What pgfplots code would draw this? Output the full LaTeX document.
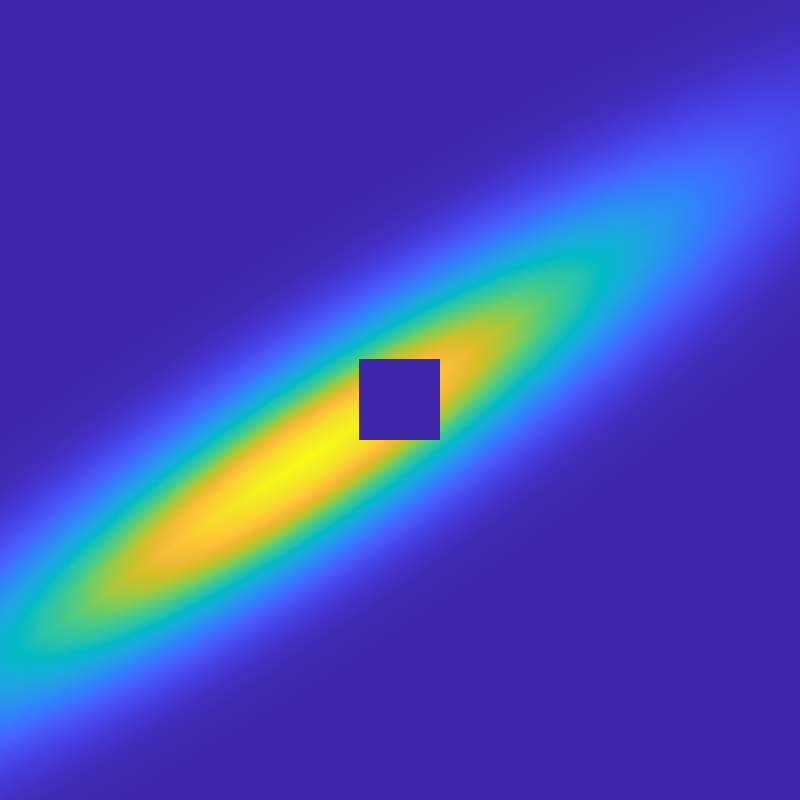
\documentclass[border=0pt]{standalone}
\usepackage{pgfplots}
\pgfplotsset{compat=1.18}
\definecolor{pbg}{rgb}{0.2422,0.1504,0.6603}
% parula, every third entry of the 64-step map
\pgfplotsset{colormap={parula}{
  rgb=(0.2422,0.1504,0.6603) rgb=(0.2647,0.1978,0.7952) rgb=(0.2783,0.2559,0.8991)
  rgb=(0.2810,0.3228,0.9579) rgb=(0.2699,0.3892,0.9906) rgb=(0.2206,0.4603,0.9973)
  rgb=(0.1786,0.5289,0.9682) rgb=(0.1540,0.5902,0.9218) rgb=(0.1248,0.6459,0.8883)
  rgb=(0.0689,0.6948,0.8394) rgb=(0.0067,0.7312,0.7660) rgb=(0.1408,0.7584,0.6842)
  rgb=(0.2161,0.7843,0.5923) rgb=(0.3406,0.8008,0.4789) rgb=(0.5044,0.7993,0.3480)
  rgb=(0.6720,0.7793,0.2227) rgb=(0.8203,0.7498,0.1535) rgb=(0.9393,0.7288,0.2100)
  rgb=(0.9970,0.7659,0.2199) rgb=(0.9786,0.8386,0.1766) rgb=(0.9597,0.9135,0.1423)
  rgb=(0.9769,0.9839,0.0805)}}
\begin{document}
\begin{tikzpicture}
\begin{axis}[
    scale only axis,
    width=10cm, height=10cm,
    xmin=0, xmax=800, ymin=0, ymax=800,
    y dir=reverse,
    hide axis,
    colormap name=parula,
    point meta min=0, point meta max=1,
  ]
  \addplot[draw=none, fill=pbg] coordinates {(0,0) (800,0) (800,800) (0,800)} -- cycle;

  % field sampled on a grid along the ridge (21 points across, 20 along)
  \addplot[surf, shader=interp, mesh/cols=21, point meta=explicit]
    table[x=X, y=Y, meta=f] {
X Y f
-201.7 555.2 0.0005
-190.7 571.9 0.0017
-179.6 588.6 0.0048
-168.6 605.2 0.0121
-157.5 621.9 0.0269
-146.5 638.6 0.0530
-135.5 655.3 0.0922
-124.4 672.0 0.1419
-113.4 688.6 0.1931
-102.3 705.3 0.2322
-91.3 722.0 0.2470
-80.3 738.7 0.2322
-69.2 755.4 0.1931
-58.2 772.0 0.1419
-47.1 788.7 0.0922
-36.1 805.4 0.0530
-25.1 822.1 0.0269
-14.0 838.8 0.0121
-3.0 855.4 0.0048
8.1 872.1 0.0017
19.1 888.8 0.0005
-151.7 522.0 0.0007
-140.7 538.7 0.0023
-129.6 555.4 0.0067
-118.6 572.0 0.0168
-107.5 588.7 0.0374
-96.5 605.4 0.0736
-85.5 622.1 0.1280
-74.4 638.8 0.1970
-63.4 655.4 0.2679
-52.3 672.1 0.3223
-41.3 688.8 0.3427
-30.3 705.5 0.3223
-19.2 722.2 0.2679
-8.2 738.8 0.1970
2.9 755.5 0.1280
13.9 772.2 0.0736
24.9 788.9 0.0374
36.0 805.6 0.0168
47.0 822.2 0.0067
58.1 838.9 0.0023
69.1 855.6 0.0007
-101.6 488.9 0.0010
-90.6 505.6 0.0031
-79.5 522.3 0.0089
-68.5 538.9 0.0223
-57.4 555.6 0.0497
-46.4 572.3 0.0977
-35.4 589.0 0.1701
-24.3 605.7 0.2617
-13.3 622.3 0.3560
-2.2 639.0 0.4282
8.8 655.7 0.4553
19.8 672.4 0.4282
30.9 689.1 0.3560
41.9 705.7 0.2617
53.0 722.4 0.1701
64.0 739.1 0.0977
75.0 755.8 0.0497
86.1 772.5 0.0223
97.1 789.1 0.0089
108.2 805.8 0.0031
119.2 822.5 0.0010
-51.6 455.8 0.0012
-40.6 472.5 0.0040
-29.5 489.2 0.0113
-18.5 505.8 0.0284
-7.4 522.5 0.0631
3.6 539.2 0.1243
14.6 555.9 0.2163
25.7 572.6 0.3328
36.7 589.2 0.4527
47.8 605.9 0.5445
58.8 622.6 0.5791
69.8 639.3 0.5445
80.9 656.0 0.4527
91.9 672.6 0.3328
103.0 689.3 0.2163
114.0 706.0 0.1243
125.0 722.7 0.0631
136.1 739.4 0.0284
147.1 756.0 0.0113
158.2 772.7 0.0040
169.2 789.4 0.0012
-1.6 422.7 0.0015
9.4 439.4 0.0048
20.5 456.1 0.0137
31.5 472.7 0.0345
42.6 489.4 0.0769
53.6 506.1 0.1513
64.6 522.8 0.2633
75.7 539.5 0.4051
86.7 556.1 0.5511
97.8 572.8 0.6629
108.8 589.5 0.7049
119.8 606.2 0.6629
130.9 622.9 0.5511
141.9 639.5 0.4051
153.0 656.2 0.2633
164.0 672.9 0.1513
175.0 689.6 0.0769
186.1 706.3 0.0345
197.1 722.9 0.0137
208.2 739.6 0.0048
219.2 756.3 0.0015
48.5 389.6 0.0017
59.5 406.3 0.0056
70.6 423.0 0.0160
81.6 439.6 0.0402
92.7 456.3 0.0896
103.7 473.0 0.1763
114.7 489.7 0.3068
125.8 506.4 0.4720
136.8 523.0 0.6422
147.9 539.7 0.7724
158.9 556.4 0.8215
169.9 573.1 0.7724
181.0 589.8 0.6422
192.0 606.4 0.4720
203.1 623.1 0.3068
214.1 639.8 0.1763
225.1 656.5 0.0896
236.2 673.2 0.0402
247.2 689.8 0.0160
258.3 706.5 0.0056
269.3 723.2 0.0017
98.5 356.4 0.0019
109.5 373.1 0.0063
120.6 389.8 0.0178
131.6 406.4 0.0449
142.7 423.1 0.0999
153.7 439.8 0.1966
164.7 456.5 0.3422
175.8 473.2 0.5265
186.8 489.8 0.7163
197.9 506.5 0.8616
208.9 523.2 0.9163
219.9 539.9 0.8616
231.0 556.6 0.7163
242.0 573.2 0.5265
253.1 589.9 0.3422
264.1 606.6 0.1966
275.1 623.3 0.0999
286.2 640.0 0.0449
297.2 656.6 0.0178
308.3 673.3 0.0063
319.3 690.0 0.0019
148.6 323.3 0.0021
159.6 340.0 0.0067
170.7 356.7 0.0190
181.7 373.3 0.0479
192.8 390.0 0.1067
203.8 406.7 0.2100
214.8 423.4 0.3654
225.9 440.1 0.5622
236.9 456.7 0.7648
248.0 473.4 0.9200
259.0 490.1 0.9784
270.0 506.8 0.9200
281.1 523.5 0.7648
292.1 540.1 0.5622
303.2 556.8 0.3654
314.2 573.5 0.2100
325.2 590.2 0.1067
336.3 606.9 0.0479
347.3 623.5 0.0190
358.4 640.2 0.0067
369.4 656.9 0.0021
198.6 290.2 0.0021
209.6 306.9 0.0068
220.7 323.6 0.0195
231.7 340.2 0.0490
242.8 356.9 0.1090
253.8 373.6 0.2146
264.8 390.3 0.3735
275.9 407.0 0.5746
286.9 423.6 0.7817
298.0 440.3 0.9403
309.0 457.0 1
320.0 473.7 0.9403
331.1 490.4 0.7817
342.1 507.0 0.5746
353.2 523.7 0.3735
364.2 540.4 0.2146
375.2 557.1 0.1090
386.3 573.8 0.0490
397.3 590.4 0.0195
408.4 607.1 0.0068
419.4 623.8 0.0021
248.6 257.1 0.0021
259.6 273.8 0.0067
270.7 290.5 0.0190
281.7 307.1 0.0479
292.8 323.8 0.1067
303.8 340.5 0.2100
314.8 357.2 0.3654
325.9 373.9 0.5622
336.9 390.5 0.7648
348.0 407.2 0.9200
359.0 423.9 0.9784
370.0 440.6 0.9200
381.1 457.3 0.7648
392.1 473.9 0.5622
403.2 490.6 0.3654
414.2 507.3 0.2100
425.2 524.0 0.1067
436.3 540.7 0.0479
447.3 557.3 0.0190
458.4 574.0 0.0067
469.4 590.7 0.0021
298.7 224.0 0.0019
309.7 240.7 0.0063
320.8 257.4 0.0178
331.8 274.0 0.0449
342.9 290.7 0.0999
353.9 307.4 0.1966
364.9 324.1 0.3422
376.0 340.8 0.5265
387.0 357.4 0.7163
398.1 374.1 0.8616
409.1 390.8 0.9163
420.1 407.5 0.8616
431.2 424.2 0.7163
442.2 440.8 0.5265
453.3 457.5 0.3422
464.3 474.2 0.1966
475.3 490.9 0.0999
486.4 507.6 0.0449
497.4 524.2 0.0178
508.5 540.9 0.0063
519.5 557.6 0.0019
348.7 190.8 0.0017
359.7 207.5 0.0056
370.8 224.2 0.0160
381.8 240.8 0.0402
392.9 257.5 0.0896
403.9 274.2 0.1763
414.9 290.9 0.3068
426.0 307.6 0.4720
437.0 324.2 0.6422
448.1 340.9 0.7724
459.1 357.6 0.8215
470.1 374.3 0.7724
481.2 391.0 0.6422
492.2 407.6 0.4720
503.3 424.3 0.3068
514.3 441.0 0.1763
525.3 457.7 0.0896
536.4 474.4 0.0402
547.4 491.0 0.0160
558.5 507.7 0.0056
569.5 524.4 0.0017
398.8 157.7 0.0015
409.8 174.4 0.0048
420.9 191.1 0.0137
431.9 207.7 0.0345
443.0 224.4 0.0769
454.0 241.1 0.1513
465.0 257.8 0.2633
476.1 274.5 0.4051
487.1 291.1 0.5511
498.2 307.8 0.6629
509.2 324.5 0.7049
520.2 341.2 0.6629
531.3 357.9 0.5511
542.3 374.5 0.4051
553.4 391.2 0.2633
564.4 407.9 0.1513
575.4 424.6 0.0769
586.5 441.3 0.0345
597.5 457.9 0.0137
608.6 474.6 0.0048
619.6 491.3 0.0015
448.8 124.6 0.0012
459.8 141.3 0.0040
470.9 158.0 0.0113
481.9 174.6 0.0284
493.0 191.3 0.0631
504.0 208.0 0.1243
515.0 224.7 0.2163
526.1 241.4 0.3328
537.1 258.0 0.4527
548.2 274.7 0.5445
559.2 291.4 0.5791
570.2 308.1 0.5445
581.3 324.8 0.4527
592.3 341.4 0.3328
603.4 358.1 0.2163
614.4 374.8 0.1243
625.4 391.5 0.0631
636.5 408.2 0.0284
647.5 424.8 0.0113
658.6 441.5 0.0040
669.6 458.2 0.0012
498.8 91.5 0.0010
509.8 108.2 0.0031
520.9 124.9 0.0089
531.9 141.5 0.0223
543.0 158.2 0.0497
554.0 174.9 0.0977
565.0 191.6 0.1701
576.1 208.3 0.2617
587.1 224.9 0.3560
598.2 241.6 0.4282
609.2 258.3 0.4553
620.2 275.0 0.4282
631.3 291.7 0.3560
642.3 308.3 0.2617
653.4 325.0 0.1701
664.4 341.7 0.0977
675.4 358.4 0.0497
686.5 375.1 0.0223
697.5 391.7 0.0089
708.6 408.4 0.0031
719.6 425.1 0.0010
548.9 58.4 0.0007
559.9 75.1 0.0023
571.0 91.8 0.0067
582.0 108.4 0.0168
593.1 125.1 0.0374
604.1 141.8 0.0736
615.1 158.5 0.1280
626.2 175.2 0.1970
637.2 191.8 0.2679
648.3 208.5 0.3223
659.3 225.2 0.3427
670.3 241.9 0.3223
681.4 258.6 0.2679
692.4 275.2 0.1970
703.5 291.9 0.1280
714.5 308.6 0.0736
725.5 325.3 0.0374
736.6 342.0 0.0168
747.6 358.6 0.0067
758.7 375.3 0.0023
769.7 392.0 0.0007
598.9 25.2 0.0005
609.9 41.9 0.0017
621.0 58.6 0.0048
632.0 75.2 0.0121
643.1 91.9 0.0269
654.1 108.6 0.0530
665.1 125.3 0.0922
676.2 142.0 0.1419
687.2 158.6 0.1931
698.3 175.3 0.2322
709.3 192.0 0.2470
720.3 208.7 0.2322
731.4 225.4 0.1931
742.4 242.0 0.1419
753.5 258.7 0.0922
764.5 275.4 0.0530
775.5 292.1 0.0269
786.6 308.8 0.0121
797.6 325.4 0.0048
808.7 342.1 0.0017
819.7 358.8 0.0005
649.0 -7.9 0.0004
660.0 8.8 0.0012
671.1 25.5 0.0033
682.1 42.1 0.0083
693.2 58.8 0.0186
704.2 75.5 0.0366
715.2 92.2 0.0636
726.3 108.9 0.0979
737.3 125.5 0.1331
748.4 142.2 0.1602
759.4 158.9 0.1703
770.4 175.6 0.1602
781.5 192.3 0.1331
792.5 208.9 0.0979
803.6 225.6 0.0636
814.6 242.3 0.0366
825.6 259.0 0.0186
836.7 275.7 0.0083
847.7 292.3 0.0033
858.8 309.0 0.0012
869.8 325.7 0.0004
699.0 -41.0 0.0002
710.0 -24.3 0.0008
721.1 -7.6 0.0022
732.1 9.0 0.0055
743.2 25.7 0.0123
754.2 42.4 0.0241
765.2 59.1 0.0420
776.3 75.8 0.0646
787.3 92.4 0.0879
798.4 109.1 0.1057
809.4 125.8 0.1125
820.4 142.5 0.1057
831.5 159.2 0.0879
842.5 175.8 0.0646
853.6 192.5 0.0420
864.6 209.2 0.0241
875.6 225.9 0.0123
886.7 242.6 0.0055
897.7 259.2 0.0022
908.8 275.9 0.0008
919.8 292.6 0.0002
749.0 -74.1 0.0002
760.0 -57.4 0.0005
771.1 -40.7 0.0014
782.1 -24.1 0.0035
793.2 -7.4 0.0077
804.2 9.3 0.0153
815.2 26.0 0.0265
826.3 42.7 0.0408
837.3 59.3 0.0556
848.4 76.0 0.0668
859.4 92.7 0.0711
870.4 109.4 0.0668
881.5 126.1 0.0556
892.5 142.7 0.0408
903.6 159.4 0.0265
914.6 176.1 0.0153
925.6 192.8 0.0077
936.7 209.5 0.0035
947.7 226.1 0.0014
958.8 242.8 0.0005
969.8 259.5 0.0002
};

  % the empty square
  \addplot[draw=none, fill=pbg] coordinates {(359,359) (440,359) (440,440) (359,440)} -- cycle;
\end{axis}
\pgfresetboundingbox
\path (current axis.south west) rectangle (current axis.north east);
\end{tikzpicture}
\end{document}
